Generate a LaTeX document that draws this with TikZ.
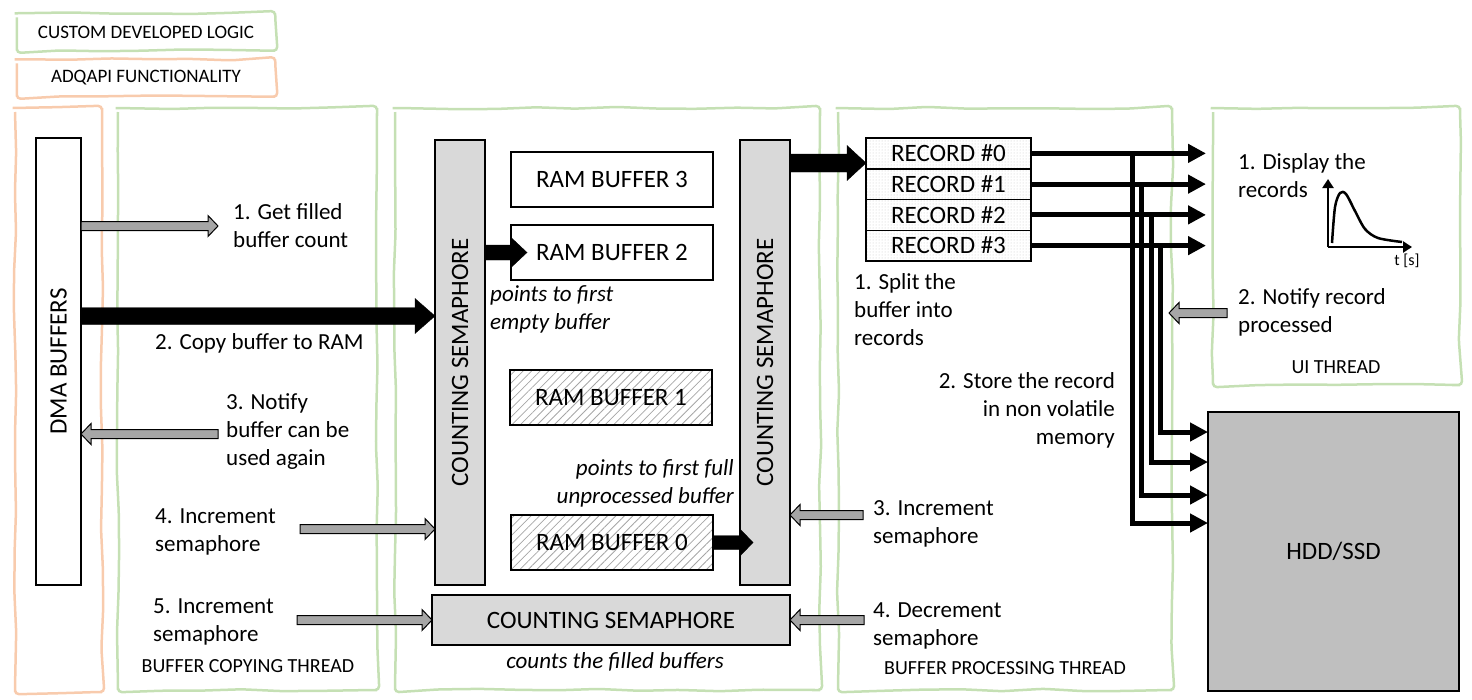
\documentclass[tikz,border=0pt]{standalone}
\usepackage{fontspec}
\setmainfont{Carlito}
\usetikzlibrary{positioning,calc,arrows.meta,patterns.meta,decorations.pathmorphing}

\definecolor{threadgreen}{HTML}{C5E0B4}
\definecolor{apiorange}{HTML}{F8CBAD}
\definecolor{semgray}{HTML}{D9D9D9}
\definecolor{diskgray}{HTML}{BFBFBF}
\definecolor{notegray}{HTML}{A6A6A6}

% horizontal block arrow: style, tail, tip, half shaft, head length, half head
\newcommand{\blockarrow}[6]{%
  \draw[#1] let \p1=#2, \p2=#3, \n1={sign(\x2-\x1)} in
    (\x1,\y1+#4) -- ({\x2-#5*\n1},\y1+#4) -- ({\x2-#5*\n1},\y1+#6) -- (\x2,\y1)
    -- ({\x2-#5*\n1},\y1-#6) -- ({\x2-#5*\n1},\y1-#4) -- (\x1,\y1-#4) -- cycle;}
\newcommand{\grayarrow}[2]{\blockarrow{fill=notegray, draw=black, line width=1pt}{#1}{#2}{4.5pt}{10pt}{10.5pt}}

\tikzset{
  thread box/.style={line width=2.5pt, decorate,
    decoration={random steps, segment length=40pt, amplitude=1.2pt}, rounded corners=4pt},
  legend text/.style={minimum width=258, minimum height=37, inner sep=0pt,
    font=\fontsize{19}{22}\selectfont},
  box text/.style={font=\fontsize{25}{28}\selectfont},
  plain box/.style={draw, line width=1.5pt, fill=white, inner sep=0pt, outer sep=0pt},
  sem box/.style={plain box, fill=semgray},
  ram box/.style={plain box, box text, minimum width=202, minimum height=55},
  full ram/.style={ram box, pattern={Lines[angle=45,distance=6pt,line width=0.8pt]}, pattern color=gray!70},
  rec box/.style={plain box, box text, minimum width=165, minimum height=30.75,
    pattern={Dots[distance=3pt,radius=0.5pt]}, pattern color=gray!45},
  note/.style={font=\fontsize{23}{28}\selectfont, align=left, inner sep=0pt, anchor=west},
  note right/.style={note, align=right, anchor=east},
  remark/.style={note, font=\fontsize{23}{28}\selectfont\itshape},
  thread label/.style={font=\fontsize{20}{22}\selectfont, inner sep=0pt},
  rec arrow/.style={line width=5pt, line join=miter, -{Triangle[length=18pt,width=18pt]}},
  axis arrow/.style={line width=2.5pt, -{Triangle[length=9pt,width=11pt]}}
}

\begin{document}
\begin{tikzpicture}[x=1pt, y=-1pt]
	\useasboundingbox (0,0) rectangle (1472,699);
	\pgfmathsetseed{7}

	% Legend
	\node[legend text] (legcustom) at (146,32) {CUSTOM DEVELOPED LOGIC};
	\node[legend text] (legapi) at (146,78) {ADQAPI FUNCTIONALITY};
	\draw[thread box, draw=threadgreen] (legcustom.north west) rectangle (legcustom.south east);
	\draw[thread box, draw=apiorange] (legapi.north west) rectangle (legapi.south east);

	% Threads
	\draw[thread box, draw=apiorange] (15,108) rectangle (102,692);
	\draw[thread box, draw=threadgreen] (118,108) rectangle (377,690);
	\draw[thread box, draw=threadgreen] (395,108) rectangle (820,690);
	\draw[thread box, draw=threadgreen] (838,108) rectangle (1172,690);
	\draw[thread box, draw=threadgreen] (1213,108) rectangle (1460,385);
	\node[thread label] (copylabel) at (248,666) {BUFFER COPYING THREAD};
	\node[thread label] (proclabel) at (1005,668) {BUFFER PROCESSING THREAD};
	\node[thread label] (uilabel) at (1336,367) {UI THREAD};

	% DMA buffers
	\node[plain box, minimum width=45, minimum height=447, anchor=north west] (dma) at (36,138) {};
	\node[box text, rotate=90] at (dma.center) {DMA BUFFERS};

	% Semaphores
	\node[sem box, minimum width=50, minimum height=445, anchor=north west] (lsem) at (435,140) {};
	\node[box text, rotate=90] at (lsem.center) {COUNTING SEMAPHORE};
	\node[sem box, minimum width=50, minimum height=445, anchor=north west] (rsem) at (740,140) {};
	\node[box text, rotate=90] at (rsem.center) {COUNTING SEMAPHORE};
	\node[sem box, box text, minimum width=358, minimum height=50, anchor=north west] (bsem) at (432,595) {COUNTING SEMAPHORE};

	% RAM buffers
	\node[ram box, anchor=north west] (rb3) at (511,152) {RAM BUFFER 3};
	\node[ram box, anchor=north west] (rb2) at (511,225) {RAM BUFFER 2};
	\node[full ram, anchor=north west] (rb1) at (510,370) {RAM BUFFER 1};
	\node[full ram, anchor=north west] (rb0) at (511,515) {RAM BUFFER 0};
	\node[remark] (emptynote) at (490,309) {points to first\\empty buffer};
	\node[remark, align=right, anchor=east] (fullnote) at (734,483) {points to first full\\unprocessed buffer};
	\node[remark, anchor=center] (countnote) at (615,662) {counts the filled buffers};

	% Records
	\node[rec box, anchor=north west] (rec0) at (866,138) {RECORD \#0};
	\node[rec box, below=0pt of rec0] (rec1) {RECORD \#1};
	\node[rec box, below=0pt of rec1] (rec2) {RECORD \#2};
	\node[rec box, below=0pt of rec2] (rec3) {RECORD \#3};

	% HDD/SSD
	\node[plain box, box text, fill=diskgray, minimum width=251, minimum height=279, anchor=north west] (hdd) at (1208,412) {HDD/SSD};

	% Step texts
	\node[note] (getnote) at (233,226) {1. Get filled\\buffer count};
	\node[note] (copynote) at (155,343) {2. Copy buffer to RAM};
	\node[note] (notifynote) at (226,432) {3. Notify\\buffer can be\\used again};
	\node[note] (incnote) at (155,532) {4. Increment\\semaphore};
	\node[note] (inc2note) at (153,622) {5. Increment\\semaphore};
	\node[note] (splitnote) at (854,310) {1. Split the\\buffer into\\records};
	\node[note right] (storenote) at (1115,410) {2. Store the record\\in non volatile\\memory};
	\node[note] (procincnote) at (873,524) {3. Increment\\semaphore};
	\node[note] (decnote) at (873,626) {4. Decrement\\semaphore};
	\node[note] (shownote) at (1238,176) {1. Display the\\records};
	\node[note] (donenote) at (1238,312) {2. Notify record\\processed};

	% Black arrows
	\coordinate (copyrow) at (0,316);
	\coordinate (outrow) at (0,163);
	\blockarrow{fill=black}{(dma.east |- copyrow)}{(lsem.west |- copyrow)}{8.5pt}{20pt}{17.5pt}
	\blockarrow{fill=black}{(lsem.east |- rb2.west)}{($(rb2.west)+(16,0)$)}{7.5pt}{16pt}{15pt}
	\blockarrow{fill=black}{(rb0.east)}{($(rsem.west |- rb0.east)+(13,0)$)}{7pt}{13pt}{13.5pt}
	\blockarrow{fill=black}{(rsem.east |- outrow)}{(rec0.west |- outrow)}{9pt}{19pt}{17.5pt}

	% Gray arrows
	\coordinate (gettip) at (218,226);
	\coordinate (notifytail) at (218,434);
	\coordinate (inctail) at (300,529);
	\coordinate (inc2tail) at (297,620);
	\coordinate (proctail) at (863,515);
	\coordinate (dectail) at (864,620);
	\coordinate (uitail) at (1227,313);
	\coordinate (uitip) at (1169,313);
	\grayarrow{(dma.east |- gettip)}{(gettip)}
	\grayarrow{(notifytail)}{(dma.east |- notifytail)}
	\grayarrow{(inctail)}{(lsem.west |- inctail)}
	\grayarrow{(inc2tail)}{(bsem.west |- inc2tail)}
	\grayarrow{(proctail)}{(rsem.east |- proctail)}
	\grayarrow{(dectail)}{(bsem.east |- dectail)}
	\grayarrow{(uitail)}{(uitip)}

	% Records to UI and HDD
	\coordinate (showtip) at (1206,0);
	\draw[rec arrow] (rec0.east) -- (rec0.east -| showtip);
	\draw[rec arrow] (rec1.east) -- (rec1.east -| showtip);
	\draw[rec arrow] (rec2.east) -- (rec2.east -| showtip);
	\draw[rec arrow] (rec3.east) -- (rec3.east -| showtip);
	\draw[rec arrow] ([xshift=101pt]rec0.east) |- ([yshift=28.5pt]hdd.west);
	\draw[rec arrow] ([xshift=110pt]rec1.east) |- ([yshift=56.5pt]hdd.west);
	\draw[rec arrow] ([xshift=120pt]rec2.east) |- ([yshift=89.5pt]hdd.west);
	\draw[rec arrow] ([xshift=129pt]rec3.east) |- ([yshift=119.5pt]hdd.west);

	% Record plot
	\coordinate (origin) at (1328,247);
	\draw[axis arrow] (origin) -- ++(0,-68);
	\draw[axis arrow] (origin) -- ++(84,0);
	\draw[line width=2.5pt] plot[smooth] coordinates {(1332,243) (1335,207) (1340,193) (1346,194) (1355,211) (1365,229) (1378,238) (1402,242)};
	\node[font=\fontsize{16}{18}\selectfont] (tlabel) at (1407,261) {t [s]};
\end{tikzpicture}
\end{document}
